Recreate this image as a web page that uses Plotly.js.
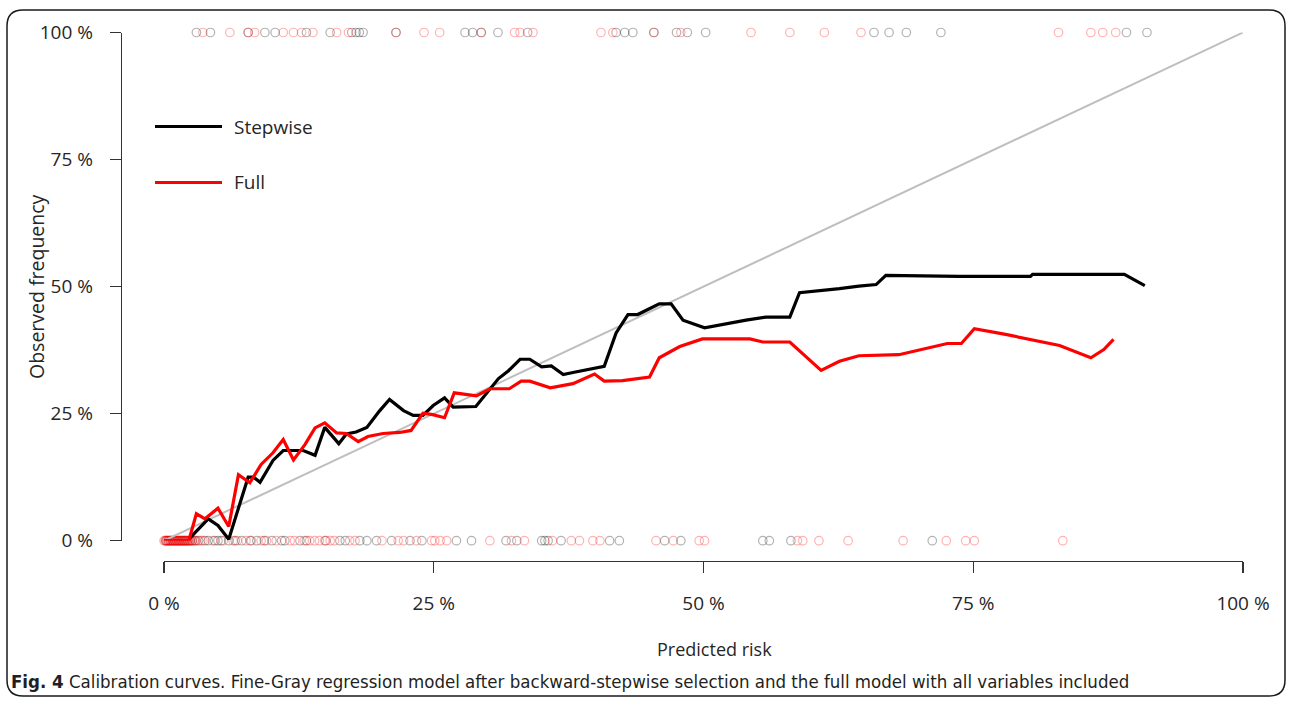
<!DOCTYPE html>
<html>
<head>
<meta charset="utf-8">
<script src="https://cdn.plot.ly/plotly-3.0.1.min.js"></script>
<style>
html,body{margin:0;padding:0;background:#fff;}
#chart{width:1292px;height:701px;}
</style>
</head>
<body>
<div id="chart"></div>
<script>
// ---- Data (percent) ----
const stepX = [2.3, 4.1, 5.0, 6.0, 7.8, 8.3, 8.9, 10.1, 11.05, 12.9, 14.0, 14.9, 16.2, 16.9, 17.8, 18.8, 20.0, 20.9, 22.2, 23.1, 24.0, 24.95, 26.0, 26.8, 28.9, 29.9, 31.0, 31.9, 33.0, 33.9, 35.0, 35.9, 37.0, 37.9, 39.4, 40.8, 41.9, 43.0, 43.9, 44.8, 45.9, 47.0, 48.1, 50.1, 52.1, 53.95, 55.8, 58.0, 58.9, 60.4, 62.6, 64.4, 66.0, 66.9, 73.7, 80.3, 80.5, 89.0, 90.9];
const stepY = [0.3, 4.3, 3.0, 0.3, 12.5, 12.5, 11.5, 15.8, 17.75, 17.75, 16.8, 22.3, 19.1, 21.0, 21.4, 22.3, 25.6, 27.8, 25.6, 24.65, 24.65, 26.6, 28.1, 26.3, 26.4, 28.95, 31.9, 33.4, 35.7, 35.7, 34.2, 34.4, 32.7, 33.1, 33.8, 34.3, 40.9, 44.5, 44.5, 45.5, 46.6, 46.6, 43.4, 41.9, 42.7, 43.4, 44.0, 44.0, 48.8, 49.1, 49.6, 50.1, 50.4, 52.2, 52.0, 52.0, 52.4, 52.4, 50.2];

const fullX = [0.0, 2.3, 3.0, 3.8, 5.0, 6.0, 6.9, 7.96, 9.0, 10.1, 11.05, 12.0, 13.06, 14.0, 14.9, 16.0, 16.9, 18.0, 18.9, 20.3, 21.85, 22.9, 24.0, 24.9, 26.0, 26.9, 28.95, 30.2, 32.0, 33.1, 33.9, 35.8, 37.9, 39.9, 40.8, 42.5, 45.0, 45.9, 47.8, 49.9, 54.3, 55.5, 58.0, 60.9, 62.6, 64.4, 68.1, 70.6, 72.6, 73.9, 75.1, 78.0, 80.8, 83.0, 85.9, 87.1, 88.0];
const fullY = [0.0, 0.0, 5.3, 4.3, 6.4, 2.8, 13.0, 11.4, 15.0, 17.3, 19.9, 15.9, 18.9, 22.2, 23.2, 21.2, 21.1, 19.5, 20.5, 21.1, 21.3, 21.7, 25.1, 24.8, 24.2, 29.1, 28.5, 29.9, 29.9, 31.4, 31.4, 30.1, 30.9, 32.8, 31.4, 31.5, 32.2, 36.0, 38.2, 39.7, 39.7, 39.1, 39.1, 33.5, 35.3, 36.4, 36.6, 37.9, 38.8, 38.8, 41.7, 40.6, 39.4, 38.4, 36.0, 37.6, 39.6];

const diagX = [0, 100];
const diagY = [0, 100];

// observed events (100 %) and non-events (0 %), by predicted risk
const stepEventX = [3.0, 4.3, 7.8, 9.35, 10.3, 13.2, 15.4, 17.4, 17.8, 18.1, 18.45, 21.5, 27.9, 28.6, 29.4, 30.95, 33.7, 41.9, 42.7, 43.45, 45.4, 47.5, 48.5, 50.2, 65.8, 67.2, 68.8, 72.0, 89.2, 91.1];
const fullEventX = [3.6, 6.1, 7.8, 8.4, 11.05, 12.0, 12.75, 13.8, 16.0, 17.1, 21.5, 24.1, 25.55, 29.4, 32.5, 33.0, 34.2, 40.5, 41.6, 45.4, 47.9, 54.4, 58.0, 61.2, 64.6, 82.9, 85.9, 87.0, 88.2];
const stepNonEventX = [0.2, 0.4, 0.6, 0.8, 1.0, 1.2, 1.4, 1.6, 1.8, 2.0, 2.2, 2.4, 2.6, 2.9, 3.2, 3.8, 4.1, 4.7, 5.0, 5.3, 6.0, 6.6, 7.2, 8.0, 8.6, 9.3, 10.0, 10.9, 11.2, 12.6, 13.2, 15.0, 16.3, 16.8, 18.15, 18.8, 19.7, 21.1, 22.8, 23.9, 27.1, 28.5, 31.7, 32.7, 35.0, 35.3, 35.6, 36.8, 41.3, 42.2, 46.4, 47.9, 55.5, 56.1, 58.1, 71.2];
const fullNonEventX = [0.0, 0.1, 0.15, 0.25, 0.3, 0.4, 0.45, 0.55, 0.6, 0.7, 0.75, 0.85, 0.9, 1.0, 1.05, 1.15, 1.2, 1.3, 1.35, 1.45, 1.5, 1.6, 1.65, 1.75, 1.8, 1.9, 1.95, 2.05, 2.1, 2.2, 2.3, 2.4, 2.5, 2.65, 2.8, 3.0, 3.4, 3.6, 4.5, 5.5, 6.4, 6.8, 7.6, 8.1, 9.0, 9.5, 10.4, 11.7, 12.1, 13.0, 13.5, 13.96, 14.4, 14.9, 15.4, 15.8, 17.2, 17.7, 20.2, 21.7, 22.2, 23.4, 24.8, 25.1, 25.6, 26.2, 30.2, 32.2, 33.4, 36.0, 37.75, 38.5, 39.75, 40.4, 45.6, 47.2, 49.6, 50.1, 58.7, 59.2, 60.7, 63.4, 68.5, 72.5, 74.3, 75.1, 83.3];

const tickVals = [0, 25, 50, 75, 100];
const tickText = ['0 %', '25 %', '50 %', '75 %', '100 %'];

const seriesNames = ['Stepwise', 'Full'];
const xTitle = 'Predicted risk';
const yTitle = 'Observed frequency';
const caption = '<b>Fig. 4</b> Calibration curves. Fine-Gray regression model after backward-stepwise selection and the full model with all variables included';

// ---- Build ----
const W = 1292, H = 701;
const px = v => v / W;
const py = v => (H - v) / H;
const FONT = '"Open Sans", "Noto Sans", sans-serif';
const TXT = '#262626';

const rug = (xs, yval, color, name) => ({
  x: xs, y: xs.map(() => yval), type: 'scatter', mode: 'markers', name: name,
  showlegend: false, hoverinfo: 'x', cliponaxis: false,
  marker: {symbol: 'circle-open', size: 8.5, color: color, line: {width: 1.2, color: color}}
});

const gray = 'rgba(0,0,0,0.3)';
const pink = 'rgba(255,0,0,0.3)';

const traces = [
  rug(stepEventX, 100, gray, seriesNames[0] + ' events'),
  rug(fullEventX, 100, pink, seriesNames[1] + ' events'),
  rug(stepNonEventX, 0, gray, seriesNames[0] + ' non-events'),
  rug(fullNonEventX, 0, pink, seriesNames[1] + ' non-events'),
  {x: diagX, y: diagY, type: 'scatter', mode: 'lines', showlegend: false, hoverinfo: 'skip',
   line: {color: '#bebebe', width: 2}, cliponaxis: false},
  {x: stepX, y: stepY, type: 'scatter', mode: 'lines', name: seriesNames[0], showlegend: false,
   line: {color: '#000000', width: 3.2}, cliponaxis: false},
  {x: fullX, y: fullY, type: 'scatter', mode: 'lines', name: seriesNames[1], showlegend: false,
   line: {color: '#ff0000', width: 3.2}, cliponaxis: false}
];

// rounded frame
const fx0 = px(7), fx1 = px(1285), fyT = py(10), fyB = py(696);
const rx = 16 / W, ry = 16 / H;
const framePath = `M ${fx0 + rx},${fyT} L ${fx1 - rx},${fyT} Q ${fx1},${fyT} ${fx1},${fyT - ry} ` +
  `L ${fx1},${fyB + ry} Q ${fx1},${fyB} ${fx1 - rx},${fyB} L ${fx0 + rx},${fyB} ` +
  `Q ${fx0},${fyB} ${fx0},${fyB + ry} L ${fx0},${fyT - ry} Q ${fx0},${fyT} ${fx0 + rx},${fyT} Z`;

const layout = {
  width: W, height: H,
  margin: {l: 0, r: 0, t: 0, b: 0},
  paper_bgcolor: '#ffffff', plot_bgcolor: '#ffffff',
  showlegend: false,
  font: {family: FONT, size: 19, color: TXT},
  xaxis: {
    domain: [px(164), px(1243)], range: [0, 100], anchor: 'free', position: py(561),
    showgrid: false, zeroline: false, showline: true, linecolor: '#333', linewidth: 1.3,
    ticks: 'outside', ticklen: 11, tickwidth: 1.3, tickcolor: '#333',
    tickvals: tickVals, ticktext: tickText, ticklabelstandoff: 14,
    tickfont: {family: FONT, size: 19, color: TXT}, automargin: false, fixedrange: true
  },
  yaxis: {
    domain: [py(540.7), py(32.5)], range: [0, 100], anchor: 'free', position: px(120.7),
    showgrid: false, zeroline: false, showline: true, linecolor: '#333', linewidth: 1.3,
    ticks: 'outside', ticklen: 11, tickwidth: 1.3, tickcolor: '#333',
    tickvals: tickVals, ticktext: tickText, ticklabelstandoff: 13,
    tickfont: {family: FONT, size: 19, color: TXT}, automargin: false, fixedrange: true
  },
  shapes: [
    {type: 'path', xref: 'paper', yref: 'paper', path: framePath, line: {color: '#1a1a1a', width: 1.5}},
    {type: 'line', xref: 'paper', yref: 'paper', x0: px(155), x1: px(222), y0: py(126.5), y1: py(126.5), line: {color: '#000', width: 3.2}},
    {type: 'line', xref: 'paper', yref: 'paper', x0: px(155), x1: px(222), y0: py(182.5), y1: py(182.5), line: {color: '#ff0000', width: 3.2}}
  ],
  annotations: [
    {xref: 'paper', yref: 'paper', x: px(232), y: py(126.5), xanchor: 'left', yanchor: 'middle', showarrow: false,
     text: seriesNames[0], font: {family: FONT, size: 19, color: TXT}},
    {xref: 'paper', yref: 'paper', x: px(232), y: py(182.5), xanchor: 'left', yanchor: 'middle', showarrow: false,
     text: seriesNames[1], font: {family: FONT, size: 19, color: TXT}},
    {xref: 'paper', yref: 'paper', x: px(714), y: py(649), xanchor: 'center', yanchor: 'middle', showarrow: false,
     text: xTitle, font: {family: FONT, size: 18, color: TXT}},
    {xref: 'paper', yref: 'paper', x: px(36), y: py(287), xanchor: 'center', yanchor: 'middle', showarrow: false,
     textangle: -90, text: yTitle, font: {family: FONT, size: 19.5, color: TXT}},
    {xref: 'paper', yref: 'paper', x: px(9), y: py(681), xanchor: 'left', yanchor: 'middle', showarrow: false,
     text: caption, font: {family: '"Liberation Sans Narrow", "DejaVu Sans Condensed", "Open Sans", sans-serif', size: 18.5, color: '#231f20'}}
  ]
};

Plotly.newPlot('chart', traces, layout, {staticPlot: true, displayModeBar: false});
</script>
</body>
</html>
